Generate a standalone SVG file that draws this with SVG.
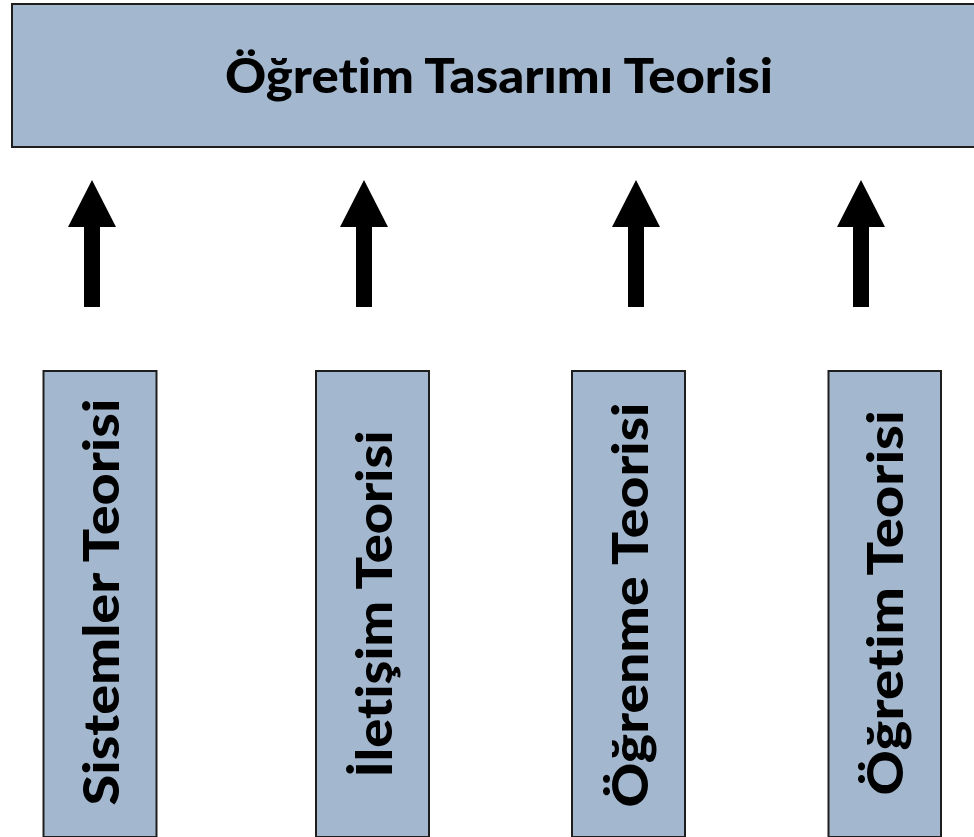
<svg xmlns="http://www.w3.org/2000/svg" width="974" height="837" viewBox="0 0 974 837">
<style>
.box{fill:#A3B8CE;stroke:#1e1e1e;stroke-width:2}
.t{font-family:Lato,"Liberation Sans",sans-serif;font-weight:900;font-variant-ligatures:none;fill:#000;text-anchor:middle}
.arr{fill:#000}
</style>
<rect width="974" height="837" fill="#fff"/>
<g id="top">
<rect class="box" x="12" y="4" width="975" height="143"/>
<text class="t" x="499" y="93" font-size="48" textLength="548" lengthAdjust="spacingAndGlyphs">Öğretim Tasarımı Teorisi</text>
</g>
<g id="connectors">
<polygon class="arr" points="92,180 116,227 100,227 100,307 84,307 84,227 68,227"/>
<polygon class="arr" points="364,180 388,227 372,227 372,307 356,307 356,227 340,227"/>
<polygon class="arr" points="636,180 660,227 644,227 644,307 628,307 628,227 612,227"/>
<polygon class="arr" points="861,180 885,227 869,227 869,307 853,307 853,227 837,227"/>
</g>
<g id="sistemler">
<rect class="box" x="43.5" y="371" width="113" height="466"/>
<text class="t" transform="translate(119,602) rotate(-90)" font-size="50" textLength="407" lengthAdjust="spacingAndGlyphs">Sistemler Teorisi</text>
</g>
<g id="iletisim">
<rect class="box" x="316" y="371" width="113" height="466"/>
<text class="t" transform="translate(392,604) rotate(-90)" font-size="50" textLength="347" lengthAdjust="spacingAndGlyphs">İletişim Teorisi</text>
</g>
<g id="ogrenme">
<rect class="box" x="572" y="371" width="113" height="466"/>
<text class="t" transform="translate(648,605) rotate(-90)" font-size="50" textLength="405" lengthAdjust="spacingAndGlyphs">Öğrenme Teorisi</text>
</g>
<g id="ogretim">
<rect class="box" x="828.5" y="371" width="112.5" height="466"/>
<text class="t" transform="translate(903,603) rotate(-90)" font-size="50" textLength="385" lengthAdjust="spacingAndGlyphs">Öğretim Teorisi</text>
</g>
</svg>
